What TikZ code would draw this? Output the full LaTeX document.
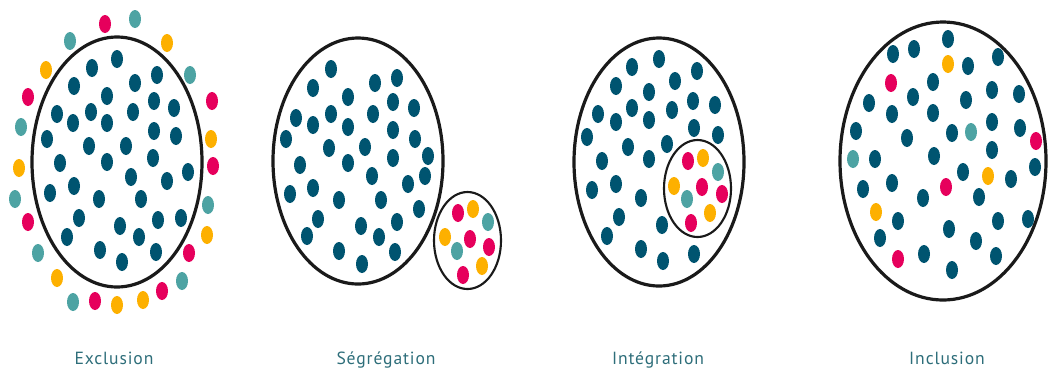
\documentclass[tikz,border=0pt]{standalone}
\usepackage{fontspec}
\usepackage{xcolor}
\usepackage{tikz}
\newfontfamily\lblfont[LetterSpace=5]{PT Sans}
\definecolor{popdark}{HTML}{005470}
\definecolor{popmag}{HTML}{E6005C}
\definecolor{popora}{HTML}{FDB000}
\definecolor{popteal}{HTML}{4DA3A3}
\definecolor{ringcol}{HTML}{1A1A1A}
\definecolor{txtcol}{HTML}{2E6E7A}

\begin{document}
\begin{tikzpicture}[
    x=0.75pt, y=-0.75pt,
    ring/.style={draw=ringcol, line width=2.4pt},
    subring/.style={draw=ringcol, line width=1.6pt},
    caption/.style={font=\lblfont\fontsize{13.2}{15}\selectfont, text=txtcol, anchor=base, inner sep=0pt}
]
\useasboundingbox (0,0) rectangle (1048,369);

% Exclusion
\draw[ring] (117,162) ellipse (85 and 125);
\foreach \x/\y in {117/59, 92/68, 74/86, 135/83, 157/75, 107/96, 154/101, 174/108,
    57/114, 73/123, 91/112, 107/123, 133/112, 154/131, 176/136, 47/139, 89/146,
    126/146, 60/163, 107/162, 153/158, 131/177, 167/181, 188/172, 50/193, 74/186,
    99/199, 141/199, 79/218, 120/226, 158/220, 181/218, 67/237, 139/237, 100/250,
    156/252, 122/262}
  \fill[popdark] (\x,\y) ellipse (6 and 9);
\foreach \x/\y in {105/24, 28/97, 212/101, 213/166, 28/222, 189/253, 95/301, 162/291}
  \fill[popmag] (\x,\y) ellipse (6 and 9);
\foreach \x/\y in {167/43, 46/70, 211/139, 19/168, 207/235, 57/278, 117/305, 143/300}
  \fill[popora] (\x,\y) ellipse (6 and 9);
\foreach \x/\y in {135/19, 70/41, 190/75, 21/127, 15/199, 208/205, 38/253, 182/281, 73/302}
  \fill[popteal] (\x,\y) ellipse (6 and 9);

% Segregation
\draw[ring] (358,161) ellipse (85 and 123);
\draw[subring] (467.5,240.5) ellipse (33.5 and 48.5);
\foreach \x/\y in {331/69, 313/88, 375/83, 397/78, 348/97, 393/102, 414/108, 296/118,
    331/114, 373/114, 313/125, 348/127, 393/130, 286/139, 415/139, 329/148, 365/147,
    428/156, 300/165, 348/163, 393/158, 372/176, 408/184, 425/176, 290/194, 313/188,
    339/200, 381/200, 419/209, 318/219, 307/236, 361/226, 397/222, 379/237, 339/251,
    395/252, 362/264}
  \fill[popdark] (\x,\y) ellipse (6 and 9);
\foreach \x/\y in {458/213, 470/239, 489/247, 463/275}
  \fill[popmag] (\x,\y) ellipse (6 and 9);
\foreach \x/\y in {473/209, 445/237, 482/266}
  \fill[popora] (\x,\y) ellipse (6 and 9);
\foreach \x/\y in {488/222, 457/251}
  \fill[popteal] (\x,\y) ellipse (6 and 9);

% Integration
\draw[ring] (659,162) ellipse (85 and 124);
\draw[subring] (697.5,188.5) ellipse (33.5 and 48.5);
\foreach \x/\y in {659/59, 632/67, 697/71, 616/86, 675/81, 649/92, 693/101, 715/105,
    598/114, 632/108, 672/110, 616/122, 649/120, 694/128, 718/135, 587/137, 628/147,
    667/144, 602/161, 649/159, 592/190, 616/184, 641/198, 619/217, 607/236, 662/225,
    641/249, 663/261, 694/254}
  \fill[popdark] (\x,\y) ellipse (6 and 9);
\foreach \x/\y in {688/161, 702/187, 722/194, 691/223}
  \fill[popmag] (\x,\y) ellipse (6 and 9);
\foreach \x/\y in {703/158, 674/186, 710/213}
  \fill[popora] (\x,\y) ellipse (6 and 9);
\foreach \x/\y in {718/172, 687/199}
  \fill[popteal] (\x,\y) ellipse (6 and 9);

% Inclusion
\draw[ring] (943,161) ellipse (103 and 139);
\foreach \x/\y in {948/39, 893/54, 914/49, 998/57, 968/66, 933/82, 992/90, 1019/94,
    869/103, 913/97, 966/100, 892/114, 933/113, 856/131, 907/138, 952/133, 992/122,
    1020/128, 875/159, 934/156, 992/150, 1035/167, 963/172, 1011/179, 863/189,
    892/183, 923/198, 979/197, 898/221, 949/229, 998/221, 1028/219, 880/238,
    976/241, 924/254, 996/256, 952/270}
  \fill[popdark] (\x,\y) ellipse (6 and 9);
\foreach \x/\y in {891/83, 1036/141, 946/187, 898/259}
  \fill[popmag] (\x,\y) ellipse (6 and 9);
\foreach \x/\y in {948/64, 988/176, 876/212}
  \fill[popora] (\x,\y) ellipse (6 and 9);
\foreach \x/\y in {971/132, 853/159}
  \fill[popteal] (\x,\y) ellipse (6 and 9);

% Captions
\node[caption] (excl) at (114,364) {Exclusion};
\node[caption] (segr) at (386,364) {Ségrégation};
\node[caption] (integ) at (658,364) {Intégration};
\node[caption] (incl) at (947,364) {Inclusion};
\end{tikzpicture}
\end{document}
